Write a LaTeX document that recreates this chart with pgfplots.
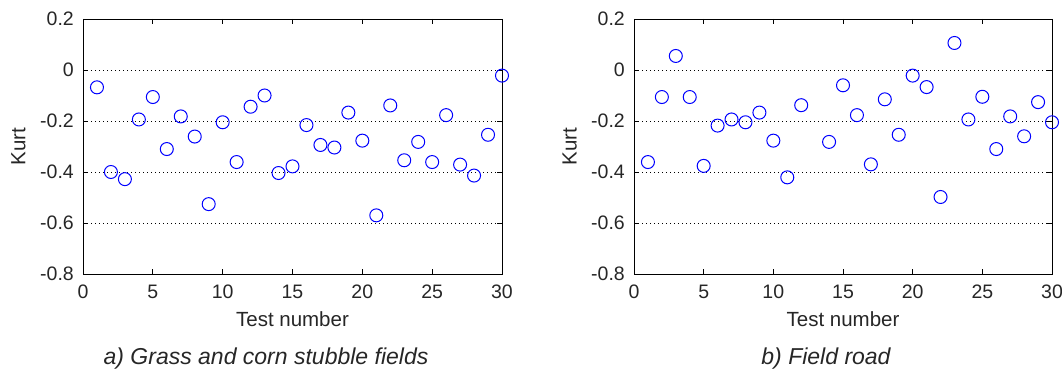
\documentclass[border=0pt]{standalone}
\usepackage{pgfplots}
\usepackage{pgfplotstable}
\pgfplotsset{compat=1.18}
\usepackage{fontspec}
\setmainfont{Liberation Sans}
\definecolor{mblue}{RGB}{0,0,255}
\definecolor{txt}{RGB}{38,38,38}

\pgfplotstableread{
x y
1 -0.068
2 -0.400
3 -0.428
4 -0.194
5 -0.106
6 -0.310
7 -0.182
8 -0.261
9 -0.526
10 -0.205
11 -0.361
12 -0.144
13 -0.100
14 -0.404
15 -0.378
16 -0.216
17 -0.294
18 -0.304
19 -0.167
20 -0.277
21 -0.570
22 -0.139
23 -0.354
24 -0.282
25 -0.361
26 -0.177
27 -0.371
28 -0.414
29 -0.254
30 -0.022
}\tblA

\pgfplotstableread{
x y
1 -0.361
2 -0.106
3 0.055
4 -0.106
5 -0.376
6 -0.218
7 -0.194
8 -0.205
9 -0.167
10 -0.277
11 -0.421
12 -0.138
14 -0.282
15 -0.060
16 -0.177
17 -0.370
18 -0.115
19 -0.254
20 -0.022
21 -0.067
22 -0.498
23 0.106
24 -0.194
25 -0.105
26 -0.310
27 -0.182
28 -0.260
29 -0.126
30 -0.205
}\tblB

\pgfplotsset{kurtstyle/.style={
  scale only axis, height=255pt,
  xmin=0, xmax=30, ymin=-0.8, ymax=0.2,
  xtick={0,5,10,15,20,25,30},
  ytick={-0.8,-0.6,-0.4,-0.2,0,0.2},
  xticklabels={0,5,10,15,20,25,30},
  yticklabels={-0.8,-0.6,-0.4,-0.2,0,0.2},
  xtick pos=both, ytick pos=both,
  tick align=inside,
  major tick length=5pt,
  ymajorgrids,
  major grid style={black, line width=0.9pt, dash pattern=on 0.9pt off 3.1pt},
  axis line style={black, line width=0.9pt},
  every tick/.style={black, line width=0.9pt},
  tick label style={font=\fontsize{19.5}{20}\selectfont, text=txt, inner sep=0pt},
  xticklabel shift=11pt, yticklabel shift=9pt,
  xlabel={Test number}, ylabel={Kurt},
  label style={font=\fontsize{20.5}{22}\selectfont, text=txt, inner sep=0pt},
  xlabel style={at={(axis description cs:0.5,-0.1451)}, anchor=north},
  ylabel style={at={(axis description cs:-0.1539,0.5)}, anchor=center},
  clip=false,
}}

\begin{document}
\begin{tikzpicture}
\begin{axis}[kurtstyle, width=419pt, at={(83pt,96pt)}, anchor=south west]
\addplot[only marks, mark=o, mark size=6.5pt, mblue, line width=1pt] table[x=x,y=y]{\tblA};
\end{axis}
\begin{axis}[kurtstyle, width=418pt, at={(634pt,96pt)}, anchor=south west]
\addplot[only marks, mark=o, mark size=6.5pt, mblue, line width=1pt] table[x=x,y=y]{\tblB};
\end{axis}
\node[font=\fontsize{23}{24}\selectfont\itshape, text=txt, anchor=base, inner sep=0pt] at (266pt,5.5pt) {a) Grass and corn stubble fields};
\node[font=\fontsize{23}{24}\selectfont\itshape, text=txt, anchor=base, inner sep=0pt] at (826pt,5.5pt) {b) Field road};
\pgfresetboundingbox
\path[use as bounding box] (0,0) rectangle (1062pt,370pt);
\end{tikzpicture}
\end{document}
